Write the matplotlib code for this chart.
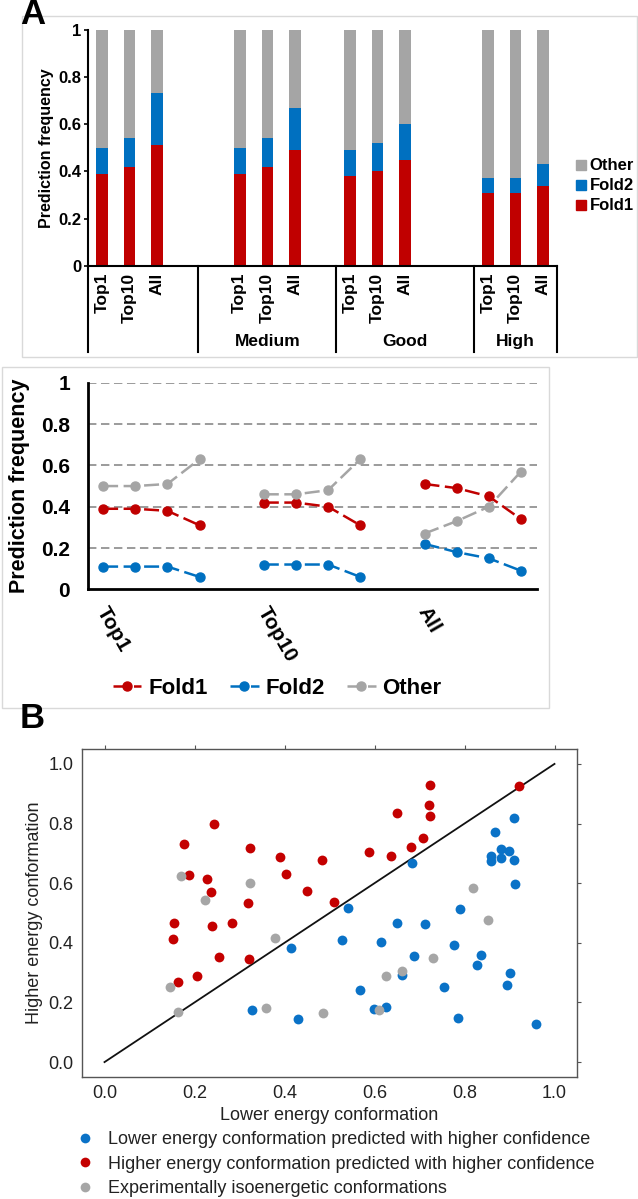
import matplotlib.pyplot as plt
import matplotlib.transforms as mtransforms
from matplotlib.lines import Line2D
from matplotlib.patches import Patch, Rectangle

plt.rcParams.update({"font.family": ["Liberation Sans", "DejaVu Sans"], "figure.dpi": 100})

RED = "#C00000"
BLUE = "#0070C0"
GRAY = "#A5A5A5"

# ---- Panel A data: one row per quality group, columns = Top1, Top10, All
ranks = ["Top1", "Top10", "All"]
groups = ["", "Medium", "Good", "High"]
fold1 = [[0.39, 0.42, 0.51], [0.39, 0.42, 0.49], [0.38, 0.40, 0.45], [0.31, 0.31, 0.34]]
fold2 = [[0.11, 0.12, 0.22], [0.11, 0.12, 0.18], [0.11, 0.12, 0.15], [0.06, 0.06, 0.09]]
other = [[0.50, 0.46, 0.27], [0.50, 0.46, 0.33], [0.51, 0.48, 0.40], [0.63, 0.63, 0.57]]
ytick_vals = [0, 0.2, 0.4, 0.6, 0.8, 1.0]
ytick_text = ["0", "0.2", "0.4", "0.6", "0.8", "1"]

# ---- Panel B data
lower_x = [0.414, 0.327, 0.431, 0.567, 0.599, 0.626, 0.662, 0.688, 0.755, 0.786, 0.827,
           0.837, 0.894, 0.902, 0.959, 0.684, 0.910, 0.867, 0.881, 0.899, 0.859, 0.858,
           0.881, 0.911, 0.912, 0.541, 0.789, 0.650, 0.713, 0.527, 0.614, 0.776]
lower_y = [0.381, 0.175, 0.145, 0.241, 0.177, 0.185, 0.291, 0.355, 0.253, 0.148, 0.325,
           0.359, 0.258, 0.298, 0.127, 0.669, 0.818, 0.771, 0.713, 0.707, 0.691, 0.676,
           0.686, 0.679, 0.597, 0.518, 0.514, 0.468, 0.463, 0.409, 0.403, 0.392]
higher_x = [0.244, 0.177, 0.324, 0.390, 0.188, 0.227, 0.404, 0.236, 0.449, 0.318, 0.154,
            0.284, 0.238, 0.152, 0.254, 0.320, 0.206, 0.164, 0.484, 0.511, 0.587, 0.636,
            0.649, 0.681, 0.708, 0.720, 0.724, 0.724, 0.922]
higher_y = [0.800, 0.732, 0.717, 0.687, 0.626, 0.613, 0.632, 0.571, 0.574, 0.534, 0.467,
            0.467, 0.455, 0.412, 0.354, 0.346, 0.289, 0.270, 0.679, 0.537, 0.704, 0.690,
            0.835, 0.720, 0.751, 0.861, 0.928, 0.825, 0.925]
iso_x = [0.170, 0.224, 0.323, 0.379, 0.145, 0.163, 0.359, 0.486, 0.609, 0.626, 0.662,
         0.731, 0.818, 0.853]
iso_y = [0.625, 0.545, 0.601, 0.416, 0.253, 0.168, 0.180, 0.164, 0.175, 0.290, 0.304,
         0.350, 0.585, 0.478]

W, H = 638, 1199


def fx(px):
    return px / W


def fy(py):
    return 1 - py / H


fig = plt.figure(figsize=(W / 100, H / 100), dpi=100)

# light frames around the two panel-A charts
for x0, y0, x1, y1 in [(22, 16, 637, 357), (2, 367, 549, 708)]:
    fig.patches.append(Rectangle((fx(x0), fy(y1)), fx(x1) - fx(x0), fy(y0) - fy(y1),
                                 transform=fig.transFigure, fill=False,
                                 edgecolor="#d9d9d9", lw=1))

# ---------------- stacked bars ----------------
ax1 = fig.add_axes([fx(88), fy(266), fx(557) - fx(88), fy(29.5) - fy(266)])
starts = [0, 5, 9, 14]
seps = [0, 4, 9, 14, 17]
centers, labels = [], []
for g in range(len(groups)):
    for i in range(len(ranks)):
        x = starts[g] + i + 0.5
        ax1.bar(x, fold1[g][i], 0.42, color=RED)
        ax1.bar(x, fold2[g][i], 0.42, bottom=fold1[g][i], color=BLUE)
        ax1.bar(x, other[g][i], 0.42, bottom=fold1[g][i] + fold2[g][i], color=GRAY)
        centers.append(x)
        labels.append(ranks[i])
ax1.set_xlim(0, 17)
ax1.set_ylim(0, 1)
for s in ["top", "right"]:
    ax1.spines[s].set_visible(False)
for s in ["left", "bottom"]:
    ax1.spines[s].set_linewidth(1.5)
ax1.set_yticks(ytick_vals, ytick_text, fontsize=12, fontweight="bold")
ax1.tick_params(axis="y", length=3, width=1.2, pad=2)
ax1.set_xticks(centers, labels, rotation=90, fontsize=12.5, fontweight="bold")
ax1.tick_params(axis="x", length=0, pad=5)
ax1.set_ylabel("Prediction frequency", fontsize=11.5, fontweight="bold", labelpad=3)
trans = mtransforms.blended_transform_factory(ax1.transData, ax1.transAxes)
for s in seps:
    ax1.plot([s, s], [0, -0.364], transform=trans, color="black", lw=1.5, clip_on=False)
for g in range(len(groups)):
    mid = (seps[g] + seps[g + 1]) / 2
    ax1.text(mid, -0.32, groups[g], transform=trans, ha="center", va="center",
             fontsize=12.5, fontweight="bold")
fig.legend(handles=[Patch(color=GRAY), Patch(color=BLUE), Patch(color=RED)],
           labels=["Other", "Fold2", "Fold1"], loc="center left",
           bbox_to_anchor=(fx(568), fy(186)), frameon=False, handlelength=0.55,
           handleheight=0.55, handletextpad=0.25, labelspacing=0.3, borderpad=0,
           prop={"size": 12, "weight": "bold"})

# ---------------- line chart ----------------
ax2 = fig.add_axes([fx(88), fy(589.3), fx(537) - fx(88), fy(382.8) - fy(589.3)])
for v in ytick_vals[1:]:
    ax2.axhline(v, color="#808080", lw=1.1, dashes=(5.5, 3))
series = [("Fold1", fold1, RED), ("Fold2", fold2, BLUE), ("Other", other, GRAY)]
handles = []
for name, vals, col in series:
    for r in range(len(ranks)):
        xs = [5 * r + g for g in range(len(groups))]
        ys = [vals[g][r] for g in range(len(groups))]
        ax2.plot(xs, ys, color=col, lw=1.8, dashes=(6, 2.2), marker="o", ms=6.5, zorder=3)
    handles.append(Line2D([], [], color=col, lw=1.8, dashes=(6, 2.2), marker="o", ms=6.5))
ax2.set_xlim(-0.47, 13.5)
ax2.set_ylim(0, 1)
for s in ["top", "right"]:
    ax2.spines[s].set_visible(False)
for s in ["left", "bottom"]:
    ax2.spines[s].set_linewidth(2)
ax2.set_yticks(ytick_vals, ytick_text, fontsize=15, fontweight="bold")
ax2.tick_params(axis="y", length=0, pad=13)
ax2.set_xticks([])
for r in range(len(ranks)):
    ax2.text(5 * r + 0.2, -0.07, ranks[r], transform=ax2.get_xaxis_transform(),
             rotation=-60, rotation_mode="anchor", ha="left", va="top",
             fontsize=15, fontweight="bold")
ax2.set_ylabel("Prediction frequency", fontsize=15.5, fontweight="bold", labelpad=8)
fig.legend(handles=handles, labels=[s[0] for s in series], loc="center",
           bbox_to_anchor=(fx(277), fy(688)), ncol=3, frameon=False,
           handlelength=1.3, handletextpad=0.3, columnspacing=1.0, borderpad=0,
           prop={"size": 16, "weight": "bold"})

# ---------------- scatter ----------------
ax3 = fig.add_axes([fx(82), fy(1077), fx(577) - fx(82), fy(749) - fy(1077)])
ax3.plot([0, 1], [0, 1], color="#111111", lw=1.3, zorder=2)
ax3.scatter(lower_x, lower_y, s=50, color="#0A72C7", linewidths=0, zorder=3)
ax3.scatter(higher_x, higher_y, s=50, color="#C40000", linewidths=0, zorder=3)
ax3.scatter(iso_x, iso_y, s=50, color="#A6A6A6", linewidths=0, zorder=3)
ax3.set_xlim(-0.05, 1.05)
ax3.set_ylim(-0.05, 1.05)
ticks = [0.0, 0.2, 0.4, 0.6, 0.8, 1.0]
ax3.set_xticks(ticks, [f"{t:.1f}" for t in ticks])
ax3.set_yticks(ticks, [f"{t:.1f}" for t in ticks])
for s in ax3.spines.values():
    s.set_color("#555555")
    s.set_linewidth(1)
ax3.tick_params(top=True, right=True, bottom=False, left=False, labeltop=False,
                labelright=False, direction="out", length=3, color="#555555",
                labelsize=13, labelcolor="#222222", pad=3)
ax3.set_xlabel("Lower energy conformation", fontsize=13, color="#222222", labelpad=3)
ax3.set_ylabel("Higher energy conformation", fontsize=13, color="#222222", labelpad=4)
leg_handles = [Line2D([], [], ls="none", marker="o", ms=7, mec="none", color=c)
               for c in ["#0A72C7", "#C40000", "#A6A6A6"]]
fig.legend(handles=leg_handles,
           labels=["Lower energy conformation predicted with higher confidence",
                   "Higher energy conformation predicted with higher confidence",
                   "Experimentally isoenergetic conformations"],
           loc="upper left", bbox_to_anchor=(fx(76), fy(1131)), frameon=False,
           handlelength=1.0, handletextpad=0.8, labelspacing=0.42, borderpad=0,
           borderaxespad=0, fontsize=13, labelcolor="#222222")

fig.text(fx(20), fy(-2), "A", fontsize=25, fontweight="bold", va="top", ha="left")
fig.text(fx(20), fy(702), "B", fontsize=25, fontweight="bold", va="top", ha="left")

fig.savefig("out.png", dpi=100)
